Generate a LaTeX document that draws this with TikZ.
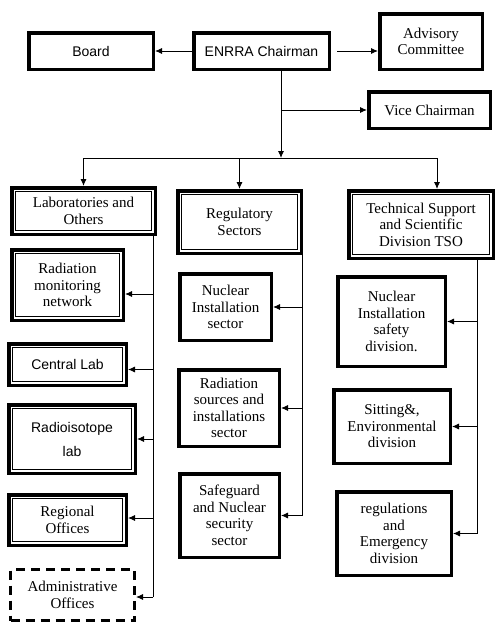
\documentclass[tikz,border=0pt]{standalone}
\usepackage{fontspec}
\setmainfont{Liberation Serif}
\setsansfont{Liberation Sans}
\usetikzlibrary{arrows.meta}

\begin{document}
\begin{tikzpicture}[x=1pt, y=-1pt,
  >={Latex[length=7pt,width=6pt]},
  box/.style={draw, line width=3.5pt, inner sep=2pt, align=center,
              font=\fontsize{15}{16.5}\selectfont},
  sansbox/.style={box, font=\sffamily\fontsize{14}{16}\selectfont},
  dbox/.style={path picture={\draw[line width=0.9pt]
      ([shift={(4pt,-4pt)}]path picture bounding box.north west) rectangle
      ([shift={(-4pt,4pt)}]path picture bounding box.south east);}},
  dashbox/.style={box, line width=3pt, dash pattern=on 9pt off 6pt},
  link/.style={line width=0.9pt}]

  \useasboundingbox (0,0) rectangle (500,629);

  %% Top level
  \node[sansbox, minimum width=124.5pt, minimum height=36.5pt] (board) at (91,51) {Board};
  \node[sansbox, minimum width=135.5pt, minimum height=36.5pt] (chair) at (261.5,51) {ENRRA Chairman};
  \node[box, minimum width=102.5pt, minimum height=55.5pt] (advis) at (431,41.5) {Advisory\\Committee};
  \node[box, minimum width=121.5pt, minimum height=36.5pt] (vice) at (429.5,110) {Vice Chairman};

  %% Laboratories column
  \node[box, dbox, minimum width=143.5pt, minimum height=46.5pt] (labs) at (83.5,211) {Laboratories and\\Others};
  \node[box, dbox, minimum width=111.5pt, minimum height=70.5pt] (radmon) at (67.5,285) {Radiation\\monitoring\\network};
  \node[sansbox, dbox, minimum width=117.5pt, minimum height=41.5pt] (central) at (67.5,364.5) {Central Lab};
  \node[sansbox, dbox, minimum width=126.5pt, minimum height=68.5pt] (radioiso) at (72,439) {Radioisotope\\[8pt]lab};
  \node[box, dbox, minimum width=117.5pt, minimum height=50.5pt] (regional) at (67.5,520) {Regional\\Offices};
  \node[dashbox, minimum width=124pt, minimum height=51pt] (admin) at (72.5,595) {Administrative\\Offices};

  %% Regulatory column
  \node[box, dbox, minimum width=123.5pt, minimum height=62.5pt] (regsec) at (239.5,222) {Regulatory\\Sectors};
  \node[box, minimum width=91.5pt, minimum height=66.5pt] (nis) at (225.5,307) {Nuclear\\Installation\\sector};
  \node[box, minimum width=100.5pt, minimum height=76.5pt] (rsis) at (229,408) {Radiation\\sources and\\installations\\sector};
  \node[box, minimum width=99.5pt, minimum height=83.5pt] (safe) at (229.5,515.5) {Safeguard\\and Nuclear\\security\\sector};

  %% TSO column
  \node[box, dbox, minimum width=144.5pt, minimum height=67.5pt] (tso) at (421,224.5) {Technical Support\\and Scientific\\Division TSO};
  \node[box, minimum width=107.5pt, minimum height=89.5pt] (nisd) at (391.5,321.5) {Nuclear\\Installation\\safety\\division.};
  \node[box, minimum width=116.5pt, minimum height=73.5pt] (sitting) at (392,426.5) {Sitting\&,\\Environmental\\division};
  \node[box, minimum width=114.5pt, minimum height=83.5pt] (regem) at (394,533.5) {regulations\\and\\Emergency\\division};

  %% Chairman links
  \coordinate (trunk) at (281,158);
  \draw[link,->] (chair) -- (board);
  \draw[link,->] ([xshift=6pt]chair.east) -- (chair.east -| advis.west);
  \draw[link,->] (chair.south -| trunk) -- (trunk);
  \draw[link,->] (trunk |- vice) -- (vice);

  %% Bus to the three columns
  \draw[link] (labs.north |- trunk) -- ([xshift=16pt]tso.north |- trunk);
  \draw[link,->] (labs.north |- trunk) -- (labs);
  \draw[link,->] (regsec.north |- trunk) -- (regsec);
  \draw[link,->] ([xshift=16pt]tso.north |- trunk) -- ([xshift=16pt]tso.north);

  %% Rails
  \coordinate (labrail) at (153,0);
  \coordinate (regrail) at (302,0);
  \coordinate (tsorail) at (477,0);
  \draw[link] (labs.south -| labrail) -- ([yshift=-2pt]admin.east -| labrail);
  \foreach \n/\dy in {radmon/-9, central/-5, radioiso/0, regional/2, admin/-2}
    \draw[link,->] ([yshift=\dy pt]\n.east -| labrail) -- ([yshift=\dy pt]\n.east);
  \draw[link] (regsec.south -| regrail) -- (safe -| regrail);
  \foreach \n in {nis, rsis, safe}
    \draw[link,->] (\n -| regrail) -- (\n);
  \draw[link] (tso.south -| tsorail) -- (regem -| tsorail);
  \foreach \n in {nisd, sitting, regem}
    \draw[link,->] (\n -| tsorail) -- (\n);

\end{tikzpicture}
\end{document}
